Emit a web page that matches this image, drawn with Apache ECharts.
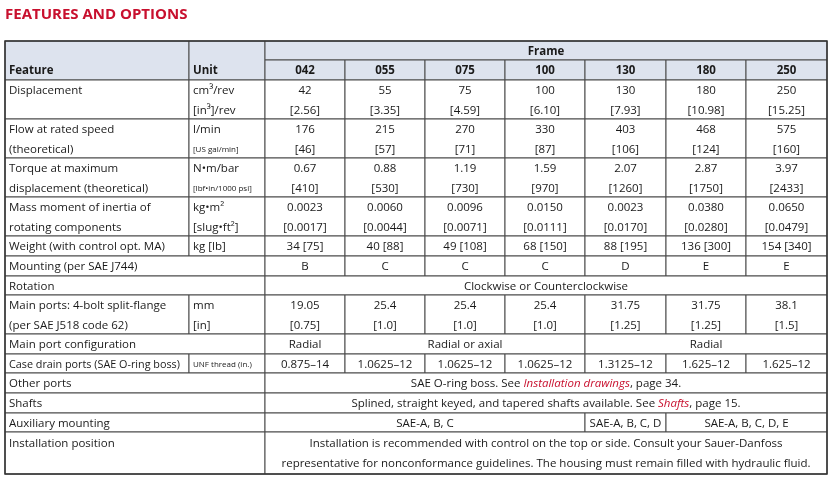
<!DOCTYPE html>
<html><head><meta charset="utf-8">
<script src="https://cdn.jsdelivr.net/npm/echarts@6/dist/echarts.min.js"></script>
<style>html,body{margin:0;padding:0;background:#fff}#c{width:832px;height:480px}</style>
</head><body><div id="c"></div>
<script>
const title = "FEATURES AND OPTIONS";
const frames = ["042","055","075","100","130","180","250"];
const displacement = [["42","[2.56]"],["55","[3.35]"],["75","[4.59]"],["100","[6.10]"],["130","[7.93]"],["180","[10.98]"],["250","[15.25]"]];
const flow = [["176","[46]"],["215","[57]"],["270","[71]"],["330","[87]"],["403","[106]"],["468","[124]"],["575","[160]"]];
const torque = [["0.67","[410]"],["0.88","[530]"],["1.19","[730]"],["1.59","[970]"],["2.07","[1260]"],["2.87","[1750]"],["3.97","[2433]"]];
const inertia = [["0.0023","[0.0017]"],["0.0060","[0.0044]"],["0.0096","[0.0071]"],["0.0150","[0.0111]"],["0.0023","[0.0170]"],["0.0380","[0.0280]"],["0.0650","[0.0479]"]];
const weight = ["34 [75]","40 [88]","49 [108]","68 [150]","88 [195]","136 [300]","154 [340]"];
const mounting = ["B","C","C","C","D","E","E"];
const mainPorts = [["19.05","[0.75]"],["25.4","[1.0]"],["25.4","[1.0]"],["25.4","[1.0]"],["31.75","[1.25]"],["31.75","[1.25]"],["38.1","[1.5]"]];
const caseDrain = ["0.875–14","1.0625–12","1.0625–12","1.0625–12","1.3125–12","1.625–12","1.625–12"];
const portConfig = [["Radial",0,1],["Radial or axial",1,4],["Radial",4,7]];
const auxMount = [["SAE-A, B, C",0,4],["SAE-A, B, C, D",4,5],["SAE-A, B, C, D, E",5,7]];

const X = [5,189,265,345,425,505,585,666,746,827];
const FONT = '"Open Sans", "Noto Sans", sans-serif';
const els = [];
const LINE = '#4a4a4a';
function rect(x0,y0,x1,y1,fill){
  els.push({type:'rect',shape:{x:x0,y:y0,width:x1-x0,height:y1-y0},style:{fill:fill||'#fff',stroke:LINE,lineWidth:1}});
}
function txt(x,y,t,opt){
  opt=opt||{};
  const st={text:t,x:x,y:y+1,fill:'#1a1a1a',font:(opt.bold?'bold ':'')+(opt.size||11.5)+'px '+FONT,align:opt.align||'left',verticalAlign:'middle'};
  if(opt.rich){st.rich=opt.rich;}
  els.push({type:'text',style:st,z:5});
}
function cell(c0,c1,y0,y1,lines,opt){
  opt=opt||{};
  rect(X[c0],y0,X[c1],y1,opt.fill);
  lines.forEach((l,i)=>{
    if(l==null)return;
    const o=Object.assign({},opt, (typeof l==='object')?l:{});
    const t=(typeof l==='object')?l.t:l;
    const yy=(opt.ys?opt.ys[i]:y0+10+i*19.5);
    if(opt.align==='center') txt((X[c0]+X[c1])/2,yy,t,o);
    else txt(X[c0]+4,yy,t,o);
  });
}
const HDR='#dde3ee';
cell(0,1,41,80,[null,'Feature'],{fill:HDR,bold:true,ys:[0,70]});
cell(1,2,41,80,[null,'Unit'],{fill:HDR,bold:true,ys:[0,70]});
cell(2,9,41,60,['Frame'],{fill:HDR,bold:true,align:'center',ys:[50.5]});
frames.forEach((f,i)=>cell(2+i,3+i,60,80,[f],{fill:HDR,bold:true,align:'center',ys:[70]}));

function twoRow(y0,feat,unit,vals){
  cell(0,1,y0,y0+39,feat);
  cell(1,2,y0,y0+39,unit);
  vals.forEach((v,i)=>cell(2+i,3+i,y0,y0+39,v,{align:'center'}));
}
twoRow(80,['Displacement'],['cm³/rev','[in³]/rev'],displacement);
twoRow(119,['Flow at rated speed','(theoretical)'],['l/min',{t:'[US gal/min]',size:8}],flow);
twoRow(158,['Torque at maximum','displacement (theoretical)'],['N•m/bar',{t:'[lbf•in/1000 psi]',size:8}],torque);
twoRow(197,['Mass moment of inertia of','rotating components'],['kg•m²','[slug•ft²]'],inertia);
function oneRow(y0,y1,feat,unit,vals){
  const ys=[(y0+y1)/2];
  if(unit!==null){cell(0,1,y0,y1,[feat.t||feat],{ys,size:feat.size});cell(1,2,y0,y1,[unit.t||unit],{ys,size:unit.size});}
  else cell(0,2,y0,y1,[feat],{ys});
  vals.forEach(v=>cell(2+v[1],2+v[2],y0,y1,[v[0]],Object.assign({align:'center',ys},v[3]||{})));
}
oneRow(236,256,'Weight (with control opt. MA)','kg [lb]',weight.map((w,i)=>[w,i,i+1]));
oneRow(256,276,'Mounting (per SAE J744)',null,mounting.map((w,i)=>[w,i,i+1]));
oneRow(276,295,'Rotation',null,[['Clockwise or Counterclockwise',0,7]]);
twoRow(295,['Main ports: 4-bolt split-flange','(per SAE J518 code 62)'],['mm','[in]'],mainPorts);
oneRow(334,354,'Main port configuration',null,portConfig);
oneRow(354,373,{t:'Case drain ports (SAE O-ring boss)',size:10.8},{t:'UNF thread (in.)',size:8},caseDrain.map((w,i)=>[w,i,i+1]));
const rich={l:{fill:'#c8102e',fontStyle:'italic',fontSize:11.5,fontFamily:FONT}};
oneRow(373,393,'Other ports',null,[['SAE O-ring boss. See {l|Installation drawings}, page 34.',0,7,{rich}]]);
oneRow(393,413,'Shafts',null,[['Splined, straight keyed, and tapered shafts available. See {l|Shafts}, page 15.',0,7,{rich}]]);
oneRow(413,432,'Auxiliary mounting',null,auxMount);
cell(0,2,432,474,['Installation position'],{ys:[443]});
cell(2,9,432,474,['Installation is recommended with control on the top or side. Consult your Sauer-Danfoss','representative for nonconformance guidelines. The housing must remain filled with hydraulic fluid.'],{align:'center',ys:[443,463]});
els.push({type:'rect',shape:{x:5,y:41,width:822,height:433},style:{fill:'none',stroke:'#333',lineWidth:1.5},z:6});
els.push({type:'text',style:{text:title,x:5,y:15,fill:'#c8102e',font:'bold 15px '+FONT,verticalAlign:'middle'}});

const chart=echarts.init(document.getElementById('c'),null,{renderer:'canvas'});
chart.setOption({animation:false,graphic:{elements:els}});
</script></body></html>
